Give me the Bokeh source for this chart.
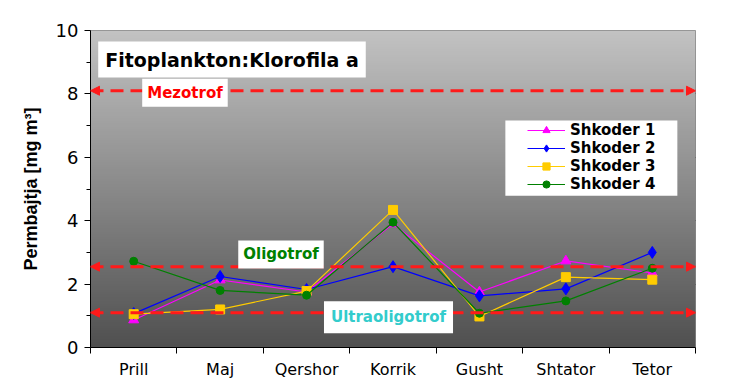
import numpy as np
from bokeh.plotting import figure
from bokeh.models import (FixedTicker, Label, Arrow, NormalHead, LinearColorMapper,
                          BoxAnnotation, Legend)
from bokeh.embed import file_html
from bokeh.resources import INLINE

months = ["Prill", "Maj", "Qershor", "Korrik", "Gusht", "Shtator", "Tetor"]
shkoder1 = [0.87, 2.13, 1.75, 3.9, 1.75, 2.73, 2.35]
shkoder2 = [1.07, 2.24, 1.83, 2.55, 1.63, 1.85, 3.0]
shkoder3 = [1.05, 1.2, 1.78, 4.34, 0.98, 2.22, 2.14]
shkoder4 = [2.72, 1.8, 1.65, 3.95, 1.08, 1.47, 2.5]
series_names = ["Shkoder 1", "Shkoder 2", "Shkoder 3", "Shkoder 4"]
thresholds = [8.1, 2.55, 1.1]
threshold_names = ["Mezotrof", "Oligotrof", "Ultraoligotrof"]
y_ticks = [0, 2, 4, 6, 8, 10]

FONT = "Liberation Sans"
WFONT = "DejaVu Sans"
n = len(months)
xs = [i + 0.5 for i in range(n)]

p = figure(width=731, height=389, x_range=(0, n), y_range=(0, 10),
           output_backend="svg", toolbar_location=None,
           min_border_left=90, min_border_right=36, min_border_top=30, min_border_bottom=42)
p.background_fill_color = "white"
p.border_fill_color = "white"
p.outline_line_color = "#888888"

# gradient background
grays = []
for t in np.linspace(0, 1, 256):
    lo, hi = 0x50, 0xc2
    v = int(round(lo + (hi - lo) * t))
    grays.append("#%02x%02x%02x" % (v, v, v))
arr = np.linspace(0, 1, 300).reshape(300, 1) * np.ones((1, 2))
p.image(image=[arr], x=0, y=0, dw=n, dh=10,
        color_mapper=LinearColorMapper(palette=grays, low=0, high=1))

# grid
p.xgrid.visible = False
p.ygrid.ticker = FixedTicker(ticks=[2, 4, 6, 8])
p.ygrid.grid_line_color = "black"
p.ygrid.grid_line_width = 1

# axes
p.xaxis.ticker = FixedTicker(ticks=xs, minor_ticks=list(range(n + 1)))
p.xaxis.major_label_overrides = {x: m for x, m in zip(xs, months)}
p.xaxis.major_tick_out = 0
p.xaxis.major_tick_in = 0
p.xaxis.minor_tick_out = 6
p.xaxis.minor_tick_in = 0
p.xaxis.major_label_standoff = 6
p.xaxis.major_label_text_font = WFONT
p.xaxis.major_label_text_font_size = "16px"
p.xaxis.major_label_text_color = "black"
p.xaxis.axis_line_color = "black"

p.yaxis.ticker = FixedTicker(ticks=y_ticks, minor_ticks=[1, 3, 5, 7, 9])
p.yaxis.major_tick_out = 6
p.yaxis.major_tick_in = 0
p.yaxis.minor_tick_out = 4
p.yaxis.minor_tick_in = 0
p.yaxis.major_label_standoff = 6
p.yaxis.major_label_text_font = WFONT
p.yaxis.major_label_text_font_size = "18px"
p.yaxis.major_label_text_color = "black"
p.yaxis.axis_line_color = "black"
p.yaxis.axis_label = "Permbajtja [mg m\u00b3]"
p.yaxis.axis_label_text_font = FONT
p.yaxis.axis_label_text_font_size = "18px"
p.yaxis.axis_label_text_font_style = "bold"
p.yaxis.axis_label_text_color = "black"
p.yaxis.axis_label_standoff = 12

# threshold lines with arrows
for thr in thresholds:
    p.add_layout(Arrow(x_start=0, y_start=thr, x_end=n, y_end=thr,
                       line_color="#ff1a1a", line_width=3, line_dash="13 7",
                       start=NormalHead(size=9, fill_color="#ff1a1a", line_color="#ff1a1a", line_width=1),
                       end=NormalHead(size=9, fill_color="#ff1a1a", line_color="#ff1a1a", line_width=1)))

# series
colors = ["#ff00ff", "#0000ff", "#ffcc00", "#008000"]
markers = ["triangle", "diamond", "square", "circle"]
sizes = [10, 12, 9, 8]
data = [shkoder1, shkoder2, shkoder3, shkoder4]
items = []
for name, ys, c, m, s in zip(series_names, data, colors, markers, sizes):
    l = p.line(xs, ys, line_color=c, line_width=1.2)
    sc = p.scatter(xs, ys, marker=m, size=s, fill_color=c, line_color=c)
    items.append((name, [l, sc]))

# legend background box
p.add_layout(BoxAnnotation(left=4.80, right=6.79, top=7.16, bottom=4.79,
                           fill_color="white", fill_alpha=1, line_color=None, level="overlay"))
legend = Legend(items=items, location=(437, 154))
legend.background_fill_alpha = 0
legend.border_line_color = None
legend.label_text_font = WFONT
legend.label_text_font_size = "15px"
legend.label_text_font_style = "bold"
legend.label_text_color = "black"
legend.glyph_width = 38
legend.glyph_height = 18
legend.label_height = 18
legend.label_standoff = 5
legend.spacing = 0
legend.padding = 1
legend.margin = 0
p.add_layout(legend)

# title box
p.add_layout(Label(x=1.637, y=9.085, text="Fitoplankton:Klorofila a", text_align="center",
                   text_baseline="middle", text_font=WFONT, text_font_size="19px",
                   text_font_style="bold", text_color="black",
                   background_fill_color="white", padding=7))

label_pos = [(1.093, 8.04), (2.204, 2.934), (3.448, 0.956)]
label_colors = ["#ff0000", "#008000", "#33cccc"]
label_pads = [5, 5, 7]
for (lx, ly), txt, col, pad in zip(label_pos, threshold_names, label_colors, label_pads):
    p.add_layout(Label(x=lx, y=ly, text=txt, text_align="center", text_baseline="middle",
                       text_font=WFONT, text_font_size="15px", text_font_style="bold",
                       text_color=col, background_fill_color="white", padding=pad))

open("out.html", "w").write(file_html(p, INLINE))
